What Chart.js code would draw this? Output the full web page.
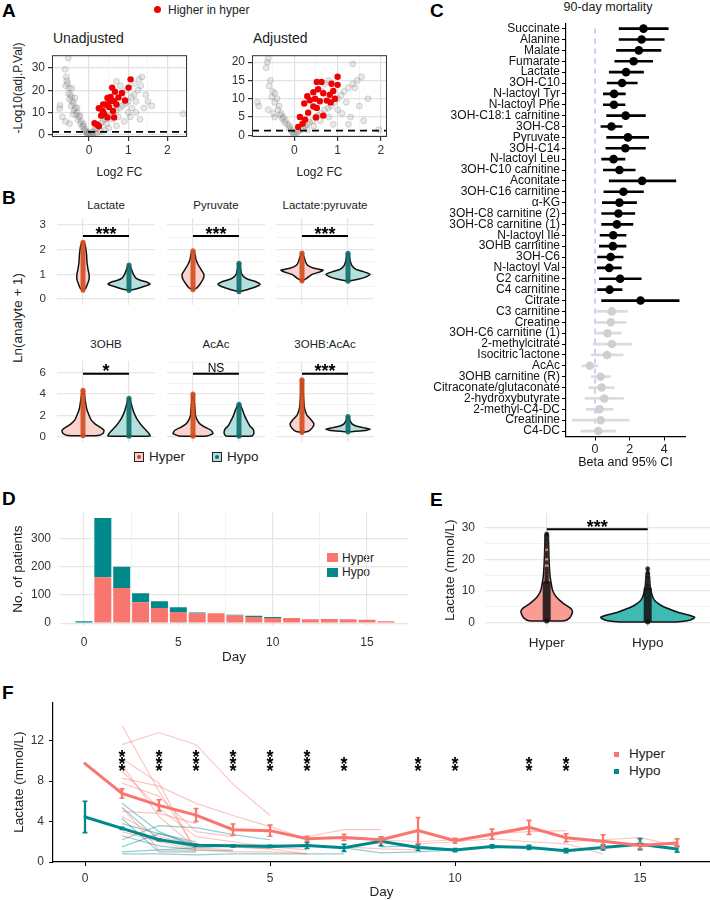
<!DOCTYPE html>
<html lang="en">
<head>
<meta charset="UTF-8">
<title>Lactate figure</title>
<script src="https://cdn.jsdelivr.net/npm/chart.js"></script>
<style>
  body { margin: 0; background: #fff; }
  #fig { position: relative; width: 710px; height: 900px; overflow: hidden; font-family: "Liberation Sans", Arial, sans-serif; color: #222; }
  #fig canvas { position: absolute; }
  .tx { position: absolute; white-space: nowrap; line-height: 1; transform: translate(0, -50%); }
  .c { transform: translate(-50%, -50%); }
  .rot { transform: translate(-50%, -50%) rotate(-90deg); }
  .lt { font-weight: bold; font-size: 19px; color: #000; }
  .key { position: absolute; box-sizing: border-box; }
</style>
</head>
<body>
<div id="fig">
  <!-- A -->
  <div class="tx lt" style="left:2px;top:10px">A</div>
  <div class="key" style="left:154px;top:6px;width:7px;height:7px;border-radius:50%;background:#F00000"></div>
  <div class="tx" style="left:168px;top:10px;font-size:12px">Higher in hyper</div>
  <div class="tx" style="left:53px;top:38px;font-size:14px">Unadjusted</div>
  <div class="tx" style="left:253px;top:38px;font-size:14px">Adjusted</div>
  <div class="tx rot" style="left:18px;top:88px;font-size:12px">-Log10(adj.P.Val)</div>

  <!-- B -->
  <div class="tx lt" style="left:2px;top:197px">B</div>
  <div class="tx c" style="left:106px;top:206px;font-size:11.5px">Lactate</div>
  <div class="tx c" style="left:216px;top:206px;font-size:11.5px">Pyruvate</div>
  <div class="tx c" style="left:325px;top:206px;font-size:11.5px">Lactate:pyruvate</div>
  <div class="tx c" style="left:106px;top:345px;font-size:11.5px">3OHB</div>
  <div class="tx c" style="left:216px;top:345px;font-size:11.5px">AcAc</div>
  <div class="tx c" style="left:325px;top:345px;font-size:11.5px">3OHB:AcAc</div>
  <div class="tx rot" style="left:18px;top:318px;font-size:13.4px">Ln(analyte + 1)</div>
  <div class="key" style="left:134px;top:452px;width:10px;height:10px;border:1px solid #222;background:#FBD3CD"></div>
  <div class="key" style="left:137px;top:455px;width:4px;height:4px;border-radius:50%;background:#D24B1E"></div>
  <div class="tx" style="left:149px;top:457px;font-size:13.5px">Hyper</div>
  <div class="key" style="left:212px;top:452px;width:10px;height:10px;border:1px solid #222;background:#B3E0DC"></div>
  <div class="key" style="left:215px;top:455px;width:4px;height:4px;border-radius:50%;background:#0F6E6A"></div>
  <div class="tx" style="left:227px;top:457px;font-size:13.5px">Hypo</div>

  <!-- C -->
  <div class="tx lt" style="left:430px;top:10px">C</div>
  <div class="tx c" style="left:608px;top:7px;font-size:12.5px">90-day mortality</div>

  <!-- D -->
  <div class="tx lt" style="left:2px;top:498px">D</div>
  <div class="key" style="left:327px;top:553px;width:11px;height:9px;background:#F8766D"></div>
  <div class="tx" style="left:342px;top:557.5px;font-size:12px">Hyper</div>
  <div class="key" style="left:327px;top:568px;width:11px;height:9px;background:#00898B"></div>
  <div class="tx" style="left:342px;top:572px;font-size:12px">Hypo</div>

  <!-- E -->
  <div class="tx lt" style="left:430px;top:499px">E</div>

  <!-- F -->
  <div class="tx lt" style="left:2px;top:692px">F</div>
  <div class="key" style="left:613.5px;top:751.5px;width:5px;height:5px;background:#F8766D"></div>
  <div class="tx" style="left:629px;top:754px;font-size:13.5px">Hyper</div>
  <div class="key" style="left:613.5px;top:768.5px;width:5px;height:5px;background:#00898B"></div>
  <div class="tx" style="left:629px;top:771px;font-size:13.5px">Hypo</div>
</div>

<script>
// ---------- A: volcano plots (log2 FC, -log10 p) ----------
const unadjGrey = [[-0.53,34.5],[-0.61,29.4],[-0.57,24.4],[-0.58,26],[-0.55,23],[-0.6,22],[-0.44,20.8],[-0.5,21],[-0.53,18.6],[-0.48,18],[-0.45,17],[-0.36,16.5],[-0.5,16],[-0.42,15],[-0.4,14],[-0.74,13.3],[-0.75,11.8],[-0.45,13],[-0.35,12],[-0.31,12.1],[-0.38,11],[-0.3,10],[-0.4,9.2],[-0.33,9],[-0.23,8.5],[-0.25,8],[-0.28,7],[-0.2,6],[-0.22,5],[-0.14,4.9],[-0.15,4],[-0.17,3.5],[-0.1,2.7],[-0.12,2],[-0.07,1.5],[-0.04,0.9],[-0.05,1],[-0.02,0.5],[0,0.2],[-0.68,8],[-0.6,6],[-0.5,5],
  [0.03,0.5],[0.06,1],[0.1,1.5],[0.15,2.5],[0.2,3],[0.25,4],[0.3,5],[0.35,6],[0.42,7],[0.5,8],[0.55,9],[0.62,10],[0.7,11],[0.78,12],[0.85,13],[0.92,14],[1.0,15],[1.08,17],[1.15,18],[1.25,20],[1.32,22],[1.28,25],[1.15,23],[0.95,20],[0.8,22],[0.7,24],[0.85,17],[1.1,12],[1.2,10],[1.05,8],[0.9,6],[0.7,4],[0.5,3],[0.4,2],[0.3,1.5],[0.15,0.8],[0.6,7],[1.45,18],[1.5,15],[1.3,7],[1.6,13],[2.4,9.5],[1.4,12],[0.2,0.5],[0.1,0.3],[-0.05,0.2],[0.05,0.1],[1.0,10],[0.75,8],[0.45,5],[1.2,15],[1.35,26],[0.6,12]];
const unadjRed = [[1.06,24.9],[1.01,21.2],[0.59,21.2],[0.66,19.3],[0.84,18.8],[0.47,16.5],[0.55,17],[0.75,16.8],[0.92,15.4],[0.64,15.1],[0.25,11.9],[0.42,13.6],[0.51,12.5],[0.35,10.7],[0.61,10.7],[0.39,9.3],[0.31,8.6],[0.47,7.8],[0.64,7.8],[0.14,5.2],[0.25,3.8],[0.2,4.6],[0.53,15.1],[0.7,13.6],[0.36,13.6]];
const adjGrey = [[-0.6,21],[-0.62,20],[-0.65,18.5],[-0.55,15],[-0.58,13.5],[-0.5,12],[-0.45,11.5],[-0.52,10.5],[-0.4,10],[-0.45,9],[-0.85,9],[-0.82,8],[-0.35,8],[-0.38,7],[-0.3,6],[-0.32,5.5],[-0.25,5],[-0.27,4.5],[-0.2,4],[-0.22,3.5],[-0.15,3],[-0.1,2.5],[-0.12,2],[-0.07,1.5],[-0.05,1],[-0.02,0.5],[0,0.3],[-0.48,6],[-0.45,5],[-0.6,7],
  [0.03,0.5],[0.06,0.8],[0.1,1.2],[0.15,1.5],[0.2,2],[0.25,2.5],[0.3,3],[0.35,3.5],[0.42,4],[0.5,5],[0.55,5.5],[0.62,6],[0.7,7],[0.78,7.5],[0.85,8],[0.92,9],[1.0,10],[1.08,11],[1.15,12],[1.25,13],[1.35,14],[1.45,15],[1.55,16],[1.4,13],[1.2,9],[1.0,7],[0.8,5],[0.6,4],[0.45,2.5],[0.3,1.5],[0.7,14],[0.8,15],[0.65,12],[1.35,19.5],[1.6,4],[1.95,1.5],[1.25,3],[1.7,10],[1.5,8],[1.1,6],[0.9,3],[1.3,5]];
const adjRed = [[0.13,5.0],[0.23,8.7],[0.3,10.7],[0.52,14.6],[0.63,14.6],[0.44,11.8],[0.55,12.6],[0.67,11.5],[0.36,9.6],[0.48,10.0],[0.59,9.3],[0.52,7.5],[0.44,7.9],[0.32,6.2],[0.25,4.3],[0.19,3.2],[0.09,2.3],[0.67,5.4],[0.5,4.9],[0.75,9.5],[0.82,11.1],[0.9,12.1],[0.94,10.0],[1.0,16.0],[1.0,13.8],[0.86,14.1],[0.84,9.0]];
const pCut = 1.3;

// ---------- B: violins (value, relative density) ----------
const bFacets = ['Lactate', 'Pyruvate', 'Lactate:pyruvate', '3OHB', 'AcAc', '3OHB:AcAc'];
const bSig = ['***', '***', '***', '*', 'NS', '***'];
const bSigLevel = [2.55, 5.9];
const vLactateHyper = [[0.36,0],[0.45,.14],[0.6,.21],[0.8,.29],[1.0,.29],[1.2,.24],[1.5,.19],[1.8,.17],[2.0,.14],[2.2,.1],[2.3,0]];
const vLactateHypo = [[0.35,0],[0.4,.29],[0.5,.67],[0.6,1],[0.68,.86],[0.75,.57],[0.85,.33],[1.0,.21],[1.15,.14],[1.3,.07],[1.38,0]];
const vPyruvateHyper = [[0.38,0],[0.45,.19],[0.6,.33],[0.8,.48],[1.0,.52],[1.2,.38],[1.4,.24],[1.6,.14],[1.8,.1],[1.95,0]];
const vPyruvateHypo = [[0.3,0],[0.38,.38],[0.5,.81],[0.6,1],[0.7,.81],[0.8,.43],[0.9,.24],[1.0,.14],[1.1,.1],[1.3,.05],[1.45,0]];
const vRatioHyper = [[0.73,0],[0.85,.24],[1.0,.48],[1.1,.86],[1.17,1],[1.25,.57],[1.35,.29],[1.5,.17],[1.65,.12],[1.8,.05],[1.86,0]];
const vRatioHypo = [[0.72,0],[0.8,.48],[0.9,.86],[1.0,1.05],[1.1,.76],[1.2,.38],[1.35,.19],[1.5,.12],[1.7,.07],[1.85,0]];
const vOhbHyper = [[0.08,0],[0.1,.71],[0.3,.95],[0.6,1],[0.9,.81],[1.2,.57],[1.6,.38],[2.0,.29],[2.5,.19],[3.0,.14],[3.5,.1],[4.0,.06],[4.35,0]];
const vOhbHypo = [[0.05,0],[0.07,1],[0.3,.95],[0.6,.81],[1.0,.62],[1.5,.43],[2.0,.29],[2.5,.19],[3.0,.12],[3.5,.05],[3.6,0]];
const vAcacHyper = [[0.05,0],[0.07,.67],[0.3,.95],[0.6,.86],[0.9,.57],[1.2,.33],[1.6,.19],[2.0,.12],[2.5,.1],[3.0,.07],[3.5,.05],[4.0,0]];
const vAcacHypo = [[0.05,0],[0.07,.62],[0.3,.71],[0.7,.67],[1.0,.52],[1.5,.38],[2.0,.26],[2.5,.17],[2.9,.07],[3.05,0]];
const vOaHyper = [[0.4,0],[0.5,.29],[0.8,.48],[1.2,.57],[1.6,.43],[2.0,.24],[2.5,.14],[3.0,.1],[4.0,.06],[5.0,.04],[5.35,0]];
const vOaHypo = [[0.45,0],[0.55,.67],[0.7,1.05],[0.85,.71],[1.0,.38],[1.2,.19],[1.5,.1],[1.9,0]];
const bViolins = [[vLactateHyper, vLactateHypo], [vPyruvateHyper, vPyruvateHypo], [vRatioHyper, vRatioHypo],
                  [vOhbHyper, vOhbHypo], [vAcacHyper, vAcacHypo], [vOaHyper, vOaHypo]];

// ---------- C: forest plot ----------
const cLabels = ['Succinate','Alanine','Malate','Fumarate','Lactate','3OH-C10','N-lactoyl Tyr','N-lactoyl Phe','3OH-C18:1 carnitine','3OH-C8','Pyruvate','3OH-C14','N-lactoyl Leu','3OH-C10 carnitine','Aconitate','3OH-C16 carnitine','α-KG','3OH-C8 carnitine (2)','3OH-C8 carnitine (1)','N-lactoyl Ile','3OHB carnitine','3OH-C6','N-lactoyl Val','C2 carnitine','C4 carnitine','Citrate','C3 carnitine','Creatine','3OH-C6 carnitine (1)','2-methylcitrate','Isocitric lactone','AcAc','3OHB carnitine (R)','Citraconate/glutaconate','2-hydroxybutyrate','2-methyl-C4-DC','Creatinine','C4-DC'];
const cEst = [2.8,2.69,2.53,2.23,1.79,1.56,1.10,1.09,1.77,0.95,1.90,1.75,1.07,1.41,2.72,1.64,1.41,1.35,1.26,1.05,1.03,0.90,0.82,1.45,0.84,2.63,0.97,0.91,0.72,0.97,0.69,-0.30,0.32,0.38,0.53,0.25,0.32,0.19];
const cLo = [1.39,1.39,1.24,1.14,0.82,0.70,0.48,0.48,0.67,0.34,0.67,0.63,0.38,0.48,0.82,0.51,0.42,0.38,0.38,0.29,0.25,0.15,0.13,0.25,0.15,0.38,0.10,0.04,-0.04,-0.11,-0.21,-0.76,-0.21,-0.36,-0.57,-0.51,-1.33,-0.82];
const cHi = [4.23,4.0,3.81,3.33,2.8,2.44,1.75,1.73,2.91,1.56,3.10,2.91,1.73,2.32,4.67,2.8,2.4,2.30,2.19,1.79,1.79,1.62,1.52,2.67,1.56,4.86,1.87,1.81,1.52,2.10,1.62,0.17,0.88,1.10,1.64,1.03,1.96,1.18];
const cSig = [1,1,1,1,1,1,1,1,1,1,1,1,1,1,1,1,1,1,1,1,1,1,1,1,1,1,0,0,0,0,0,0,0,0,0,0,0,0];

// ---------- D: patients per day ----------
const dDays = [0,1,2,3,4,5,6,7,8,9,10,11,12,13,14,15,16];
const dHyper = [0,163,125,74,54,40,34,35,27,22,18,18,14,15,14,12,7];
const dHypo = [7,210,75,32,24,17,4,0,3,4,4,0,0,0,0,0,0];

// ---------- E: lactate violins ----------
const eHyperDens = [[0.5,0],[0.55,.38],[1.5,.49],[2.5,.53],[3.5,.55],[4.5,.51],[6,.36],[8,.21],[10,.13],[12,.1],[15,.07],[20,.05],[25,.04],[27.5,.03],[28,0]];
const eHypoDens = [[0.2,0],[0.22,.6],[0.6,.85],[1.2,.97],[1.7,1],[2.5,.85],[3,.7],[4,.51],[5,.34],[6,.23],[7,.15],[8,.11],[10,.07],[12,.05],[14,.04],[16,.02],[17,0]];
const eHyperStrip = [0.5, 13];
const eHypoStrip = [0.2, 11];
const eHyperPts = [14,15,16,17,19,21,22,24,25,26,26.5,27,27.3,27.6,28];
const eHypoPts = [11.5,12,13,14,14.5,15.5,17];

// ---------- F: lactate over time ----------
const fDays = [0,1,2,3,4,5,6,7,8,9,10,11,12,13,14,15,16];
const fHyperMean = [9.73,6.78,5.6,4.64,3.2,3.1,2.3,2.43,2.2,3.1,2.1,2.75,3.42,2.4,2.05,1.63,1.89];
const fHyperSE = [null,0.45,0.55,0.65,0.55,0.55,0.25,0.3,0.3,1.3,0.25,0.5,0.7,0.4,0.65,0.3,0.4];
const fHypoMean = [4.45,3.33,2.2,1.66,1.6,1.54,1.63,1.4,2.05,1.44,1.18,1.54,1.44,1.12,1.44,1.76,1.28];
const fHypoSE = [1.55,0.1,0.1,0.1,0.1,0.1,0.3,0.35,0.45,0.3,0.15,0.15,0.2,0.2,0.25,0.55,0.3];
const fHyperPatients = [
  [[1,11.6],[2,12.8],[3,11.6],[4,7.7],[5,4.6]],
  [[1,13.5],[2,7.0],[3,1.2]],
  [[1,10.2],[2,7.8],[3,1.0]],
  [[1,9.6],[2,4.5],[3,1.4],[4,1.2]],
  [[1,8.3],[2,7.5],[3,5.8],[4,4.6],[5,3.5],[6,2.3]],
  [[1,7.8],[2,6.5],[3,3.0],[4,2.5]],
  [[1,5.4],[2,1.2],[3,1.1]],
  [[1,5.0],[2,4.8],[3,3.8]],
  [[1,4.5],[2,2.5],[3,1.8],[4,1.5],[5,1.3]],
  [[1,3.0],[2,2.0],[3,1.2],[4,1.0],[5,1.0],[6,0.8]],
  [[1,9.0],[2,5.3],[3,2.5],[4,2.0],[5,1.5],[6,1.2]],
  [[6,2.5],[7,3.2],[8,3.2]],
  [[7,2.3],[8,2.2],[9,2.0],[10,2.2],[11,2.8],[12,3.0],[13,3.1]],
  [[9,1.8],[10,2.0],[11,2.3],[12,2.0],[13,1.8],[14,0.8]],
  [[13,2.0],[14,2.2],[15,2.4],[16,1.6]],
  [[3,1.6],[4,1.5],[5,1.3],[6,0.8]],
  [[7,1.5],[8,1.3],[9,1.2]]
];
const fHypoPatients = [
  [[1,5.8],[2,3.0],[3,1.5]],
  [[1,5.4],[2,2.2],[3,1.4]],
  [[1,3.8],[2,2.8],[3,1.8]],
  [[1,2.2],[2,3.6],[3,3.4],[4,2.7],[5,2.2]],
  [[1,1.5],[2,2.8],[3,2.0]],
  [[1,0.8],[2,0.8],[3,0.7],[4,0.8],[5,0.8],[6,0.8],[7,0.8]],
  [[1,2.6],[2,1.6],[3,1.2],[4,1.1]],
  [[1,1.0],[2,1.2],[3,1.4],[4,1.6],[5,1.7],[6,1.6]],
  [[7,1.4],[8,0.9],[9,1.0],[10,1.2]],
  [[8,1.5],[9,1.6],[10,1.2]],
  [[1,4.3],[2,1.0],[3,1.0]]
];
const fStarDays = [1,2,3,4,5,6,7,9,10,12,13];
const fStarCount = [3,3,3,3,3,3,2,2,2,2,2];

// ---------- helpers ----------
const FAM = '"Liberation Sans", Arial, sans-serif';
Chart.defaults.font.family = FAM;
Chart.defaults.font.size = 12;
Chart.defaults.color = '#333';
Chart.defaults.animation = false;
Chart.defaults.events = [];
Chart.defaults.plugins.legend.display = false;
Chart.defaults.plugins.tooltip.enabled = false;

const fig = document.getElementById('fig');
const isMul = (v, m) => Math.abs(v / m - Math.round(v / m)) < 1e-6;
const pts = arr => arr.map(p => ({x: p[0], y: p[1]}));

// canvas placed so that the plot area lands on `area` (page px)
function chartAt(area, yw, xh, padT, padR, cfg, plugins) {
  const cv = document.createElement('canvas');
  const left = area[0] - yw, top = area[1] - padT;
  const w = Math.round(area[2] + padR - left), h = Math.round(area[3] + xh - top);
  cv.width = w; cv.height = h;
  cv.style.left = left + 'px'; cv.style.top = top + 'px';
  cv.style.width = w + 'px'; cv.style.height = h + 'px';
  fig.appendChild(cv);
  const o = cfg.options;
  o.responsive = false;
  o.devicePixelRatio = 1;
  o.layout = {autoPadding: false, padding: {left: 0, top: padT, right: padR, bottom: 0}};
  o.scales.x.afterFit = s => { s.height = xh; };
  o.scales.y.afterFit = s => { s.width = yw; };
  cfg.plugins = plugins || [];
  return new Chart(cv, cfg);
}

// panel frame (theme_bw border)
const frame = col => ({
  id: 'frame',
  afterDatasetsDraw(chart) {
    const a = chart.chartArea, ctx = chart.ctx;
    ctx.save();
    ctx.strokeStyle = col; ctx.lineWidth = 1;
    ctx.strokeRect(a.left + 0.5, a.top + 0.5, a.right - a.left - 1, a.bottom - a.top - 1);
    ctx.restore();
  }
});

// text placed in data coordinates
const notes = items => ({
  id: 'notes',
  afterDatasetsDraw(chart) {
    const ctx = chart.ctx, sx = chart.scales.x, sy = chart.scales.y;
    ctx.save();
    ctx.fillStyle = '#000';
    ctx.textAlign = 'center';
    ctx.textBaseline = 'alphabetic';
    items.forEach(n => {
      ctx.font = n.font;
      ctx.fillText(n.text, sx.getPixelForValue(n.x), sy.getPixelForValue(n.y) + (n.dy || 0));
    });
    ctx.restore();
  }
});

function grid(mult, maj, min, ticks) {
  return {
    color: c => (c.tick && isMul(c.tick.value, mult)) ? maj : min,
    lineWidth: c => (c.tick && isMul(c.tick.value, mult)) ? 1.2 : 0.8,
    drawTicks: !!ticks,
    tickLength: 4,
    tickColor: c => (c.tick && isMul(c.tick.value, mult)) ? '#333' : 'rgba(0,0,0,0)',
    offset: false
  };
}

function violin(center, dens, k, fill) {
  const right = dens.map(p => ({x: center + p[1] * k, y: p[0]}));
  const left = dens.slice().reverse().map(p => ({x: center - p[1] * k, y: p[0]}));
  return {data: right.concat(left.slice(1)), showLine: true, fill: 'shape', backgroundColor: fill,
          borderColor: '#111', borderWidth: 1.5, pointRadius: 0, tension: 0.2, order: 4};
}
function strip(center, lo, hi, col, w) {
  return {data: [{x: center, y: lo}, {x: center, y: hi}], showLine: true, borderColor: col, borderWidth: w,
          pointRadius: 2.5, pointBackgroundColor: col, pointBorderWidth: 0, order: 3};
}
function sigBar(level) {
  return {data: [{x: 1, y: level}, {x: 2, y: level}], showLine: true, borderColor: '#000', borderWidth: 2,
          pointRadius: 0, order: 1};
}

// ---------- A ----------
function volcano(area, yw, grey, red, xr, yr, ystep, ymult) {
  return chartAt(area, yw, 43, 7, 5, {
    type: 'scatter',
    data: {datasets: [
      {data: pts(grey), pointRadius: 3, backgroundColor: 'rgba(150,150,150,0.22)', borderColor: 'rgba(110,110,110,0.3)', borderWidth: 0.8, order: 3},
      {data: pts(red), pointRadius: 3.2, backgroundColor: '#F00000', borderWidth: 0, order: 2},
      {data: [{x: xr[0], y: pCut}, {x: xr[1], y: pCut}], showLine: true, borderColor: '#000', borderWidth: 1.6, borderDash: [7, 5], pointRadius: 0, order: 1}
    ]},
    options: {scales: {
      x: {type: 'linear', min: xr[0], max: xr[1],
          ticks: {stepSize: 0.5, includeBounds: false, callback: v => isMul(v, 1) ? v : '', padding: 2, color: '#333', font: {size: 12}},
          grid: grid(1, '#E2E2E2', '#F1F1F1', true), border: {display: false},
          title: {display: true, text: 'Log2 FC', font: {size: 12}, color: '#222', padding: {top: 0, bottom: 0}}},
      y: {type: 'linear', min: yr[0], max: yr[1],
          ticks: {stepSize: ystep, includeBounds: false, callback: v => isMul(v, ymult) ? v : '', padding: 3, color: '#333', font: {size: 12}},
          grid: grid(ymult, '#E2E2E2', '#F1F1F1', true), border: {display: false}}
    }}
  }, [frame('#333')]);
}
volcano([52, 52, 187, 137], 52, unadjGrey, unadjRed, [-0.945, 2.5], [-1.0, 35.75], 5, 10);
volcano([252, 52, 387, 137], 52, adjGrey, adjRed, [-0.976, 2.14], [-0.45, 21.9], 2.5, 5);

// ---------- B ----------
const bAreas = [[57,218,155,305],[167,218,265,305],[276,218,374,305],[57,361,155,442],[167,361,265,442],[276,361,374,442]];
const bHalf = 0.4565;
bFacets.forEach((name, i) => {
  const row = i < 3 ? 0 : 1, first = i % 3 === 0;
  const yr = row ? [-0.5, 7.1] : [-0.24, 3.28];
  const step = row ? 1 : 0.5, mult = row ? 2 : 1;
  const hy = bViolins[i][0], ho = bViolins[i][1];
  const sig = bSig[i];
  // generous top/bottom room so label padding never squeezes the plot area
  chartAt(bAreas[i], first ? 57 : 0, 20, 20, 0, {
    type: 'scatter',
    data: {datasets: [
      violin(1, hy, bHalf, '#FBD3CD'),
      violin(2, ho, bHalf, '#B3E0DC'),
      strip(1, hy[0][0], hy[hy.length - 1][0], 'rgba(210,75,30,0.9)', 5),
      strip(2, ho[0][0], ho[ho.length - 1][0], 'rgba(15,110,106,0.9)', 5),
      sigBar(bSigLevel[row])
    ]},
    options: {scales: {
      x: {type: 'linear', min: 0.435, max: 2.565, ticks: {display: false, stepSize: 1, includeBounds: false},
          grid: {color: '#E6E6E6', lineWidth: 1.2, drawTicks: false}, border: {display: false}},
      y: {type: 'linear', min: yr[0], max: yr[1],
          ticks: {display: first, stepSize: step, includeBounds: false, callback: v => isMul(v, mult) ? v : '', padding: 11, color: '#333', font: {size: 11.5}},
          grid: grid(mult, '#E6E6E6', '#EFEFEF', false), border: {display: false}}
    }}
  }, [notes([{x: 1.5, y: bSigLevel[row], text: sig,
              font: sig === 'NS' ? '12px ' + FAM : 'bold 18px ' + FAM, dy: sig === 'NS' ? -2 : 3.5}])]);
});

// ---------- C ----------
chartAt([566, 22.9, 685, 436.5], 226, 37.5, 8.9, 25, {
  type: 'bar',
  data: {labels: cLabels, datasets: [
    {type: 'line', data: cEst.map((v, i) => ({x: v, y: cLabels[i]})), showLine: false, pointRadius: 4.3,
     pointBackgroundColor: cSig.map(s => s ? '#000' : '#CFCFCF'), pointBorderWidth: 0, order: 1},
    {type: 'bar', data: cLo.map((v, i) => [v, cHi[i]]), backgroundColor: cSig.map(s => s ? '#000' : '#DCDCDC'),
     barThickness: 2, borderSkipped: false, order: 2},
    {type: 'line', data: [{x: 0, y: cLabels[0]}, {x: 0, y: cLabels[cLabels.length - 1]}], borderColor: '#9A9AF0',
     borderWidth: 1, borderDash: [5, 5], pointRadius: 0, order: 3}
  ]},
  options: {indexAxis: 'y', scales: {
    y: {type: 'category', offset: true,
        grid: {display: true, drawOnChartArea: false, drawTicks: true, tickLength: 4, tickColor: '#000', offset: false},
        border: {display: true, color: '#000', width: 1.2},
        ticks: {autoSkip: false, padding: 2, color: '#111', font: {size: 12}}},
    x: {type: 'linear', min: -1.68, max: 5.2,
        ticks: {stepSize: 2, includeBounds: false, color: '#222', font: {size: 12.5}, padding: 2},
        grid: {drawOnChartArea: false, drawTicks: true, tickLength: 4, tickColor: '#000'},
        border: {display: true, color: '#000', width: 1.2},
        title: {display: true, text: 'Beta and 95% CI', font: {size: 12.5}, color: '#111', padding: {top: 0, bottom: 3.5}}}
  }}
});

// ---------- D ----------
chartAt([60, 503, 408, 626], 60, 40, 7, 7, {
  type: 'bar',
  data: {datasets: [
    {label: 'Hyper', data: dDays.map((d, i) => ({x: d, y: dHyper[i]})), backgroundColor: '#F8766D'},
    {label: 'Hypo', data: dDays.map((d, i) => ({x: d, y: dHypo[i]})), backgroundColor: '#00898B'}
  ]},
  options: {
    datasets: {bar: {barPercentage: 0.9, categoryPercentage: 1}},
    scales: {
      x: {type: 'linear', stacked: true, offset: false, min: -1.27, max: 17.17,
          ticks: {stepSize: 2.5, includeBounds: false, callback: v => isMul(v, 5) ? v : '', padding: 9, color: '#333', font: {size: 12}},
          grid: grid(5, '#E6E6E6', '#EFEFEF', false), border: {display: false},
          title: {display: true, text: 'Day', font: {size: 13.5}, color: '#222', padding: {top: 0, bottom: 1}}},
      y: {type: 'linear', stacked: true, min: -10, max: 394,
          ticks: {stepSize: 50, includeBounds: false, callback: v => isMul(v, 100) ? v : '', padding: 9, color: '#333', font: {size: 12}},
          grid: grid(100, '#E6E6E6', '#EFEFEF', false), border: {display: false},
          title: {display: true, text: 'No. of patients', font: {size: 13.5}, color: '#222', padding: {top: 10, bottom: 0}}}
    }
  }
});

// ---------- E ----------
const eHalf = 0.465;
chartAt([485, 507, 710, 627], 45, 39, 11, 0, {
  type: 'scatter',
  data: {datasets: [
    violin(1, eHyperDens, eHalf, 'rgba(248,118,109,0.72)'),
    violin(2, eHypoDens, eHalf, 'rgba(0,160,155,0.75)'),
    strip(1, eHyperStrip[0], eHyperStrip[1], 'rgba(15,15,15,0.85)', 8),
    strip(2, eHypoStrip[0], eHypoStrip[1], 'rgba(15,15,15,0.85)', 8),
    {data: eHyperPts.map(v => ({x: 1, y: v})), pointRadius: 2.3, backgroundColor: 'rgba(15,15,15,0.8)', borderColor: 'rgba(80,80,80,0.8)', borderWidth: 0.5, order: 2},
    {data: eHypoPts.map(v => ({x: 2, y: v})), pointRadius: 2.3, backgroundColor: 'rgba(15,15,15,0.8)', borderColor: 'rgba(80,80,80,0.8)', borderWidth: 0.5, order: 2},
    sigBar(29.5)
  ]},
  options: {scales: {
    x: {type: 'linear', min: 0.389, max: 2.617,
        ticks: {stepSize: 1, includeBounds: false, callback: v => v === 1 ? 'Hyper' : (v === 2 ? 'Hypo' : ''), padding: 8, color: '#222', font: {size: 13.5}},
        grid: {color: '#E6E6E6', lineWidth: 1.2, drawTicks: false}, border: {display: false}},
    y: {type: 'linear', min: -1.4, max: 34.6,
        ticks: {stepSize: 5, includeBounds: false, callback: v => isMul(v, 10) ? v : '', padding: 10, color: '#333', font: {size: 12}},
        grid: grid(10, '#E6E6E6', '#EFEFEF', false), border: {display: false},
        title: {display: true, text: 'Lactate (mmol/L)', font: {size: 13.5}, color: '#222', padding: {top: 2, bottom: 0}}}
  }}
}, [notes([{x: 1.5, y: 29.5, text: '***', font: 'bold 18px ' + FAM, dy: 4}])]);

// ---------- F ----------
const HYPER = '#F8766D', HYPO = '#00898B';
const fSets = [];
fHyperPatients.forEach(p => fSets.push({data: pts(p), showLine: true, borderColor: 'rgba(248,118,109,0.42)', borderWidth: 1.2, pointRadius: 0, order: 6}));
fHypoPatients.forEach(p => fSets.push({data: pts(p), showLine: true, borderColor: 'rgba(0,137,139,0.42)', borderWidth: 1.2, pointRadius: 0, order: 6}));
[[fHyperMean, fHyperSE, HYPER], [fHypoMean, fHypoSE, HYPO]].forEach(([m, se, col]) => {
  fSets.push({data: fDays.map((d, i) => ({x: d, y: m[i]})), showLine: true, borderColor: col, borderWidth: 3,
              pointRadius: 2, pointStyle: 'rect', pointBackgroundColor: col, pointBorderWidth: 0, order: 3});
  const idx = fDays.map((d, i) => i).filter(i => se[i] !== null);
  fSets.push({type: 'bar', data: idx.map(i => ({x: fDays[i], y: [m[i] - se[i], m[i] + se[i]]})), backgroundColor: col,
              barThickness: 1.6, grouped: false, borderSkipped: false, order: 2});
  fSets.push({data: idx.flatMap(i => [{x: fDays[i], y: m[i] - se[i]}, {x: fDays[i], y: m[i] + se[i]}]),
              pointStyle: 'line', pointRadius: 2.5, borderColor: col, borderWidth: 1.6, order: 2});
});
const fNotes = [];
fStarDays.forEach((d, i) => {
  for (let k = 0; k < fStarCount[i]; k++) fNotes.push({x: d, y: 9.35 + k * 0.73, text: '*', font: 'bold 18px ' + FAM, dy: 10});
});
chartAt([53, 697, 710, 862], 53, 38, 7, 0, {
  type: 'scatter',
  data: {datasets: fSets},
  options: {scales: {
    x: {type: 'linear', min: -0.865, max: 16.89, offset: false,
        ticks: {stepSize: 5, includeBounds: false, padding: 5, color: '#333', font: {size: 12}},
        grid: {drawOnChartArea: false, drawTicks: true, tickLength: 4, tickColor: '#000', offset: false},
        border: {display: true, color: '#000', width: 1.2},
        title: {display: true, text: 'Day', font: {size: 13.5}, color: '#222', padding: {top: 0, bottom: 0}}},
    y: {type: 'linear', min: 0, max: 15.8,
        ticks: {stepSize: 4, includeBounds: false, padding: 5, color: '#333', font: {size: 12}},
        grid: {drawOnChartArea: false, drawTicks: true, tickLength: 4, tickColor: '#000'},
        border: {display: true, color: '#000', width: 1.2},
        title: {display: true, text: 'Lactate (mmol/L)', font: {size: 13.5}, color: '#222', padding: {top: 11, bottom: 0}}}
  }}
}, [notes(fNotes)]);
</script>
</body>
</html>
